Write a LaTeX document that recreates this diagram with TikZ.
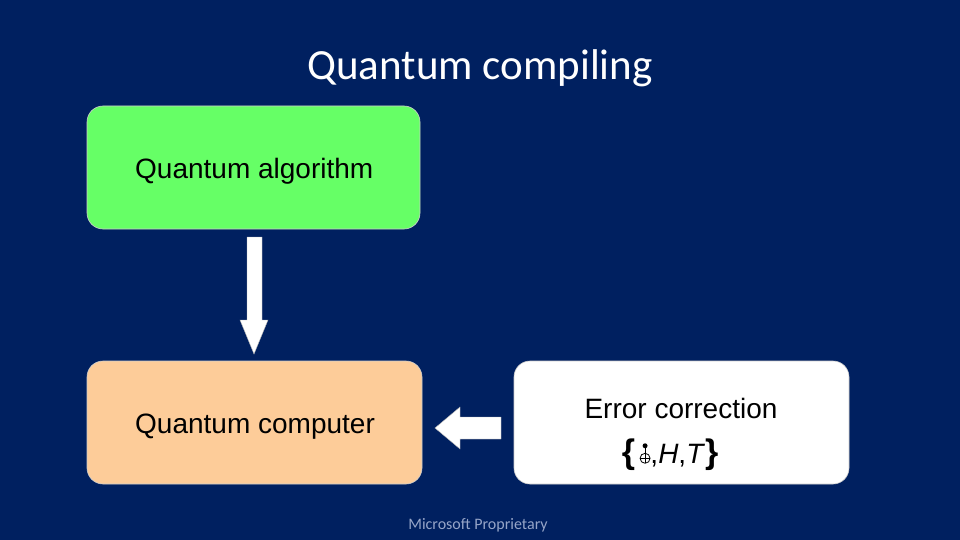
\documentclass[tikz,border=0pt]{standalone}
\usepackage{fontspec}
\setmainfont{Liberation Sans}
\newfontfamily\calib{Carlito}
\definecolor{bgnavy}{RGB}{0,32,96}
\definecolor{boxgreen}{RGB}{102,255,102}
\definecolor{boxorange}{RGB}{253,204,153}
\definecolor{footgray}{RGB}{150,165,200}
\tikzset{
  box/.style={draw=gray!40, line width=0.6pt, rounded corners=16pt},
  fatarrow/.style={fill=white, draw=gray!60, line width=0.4pt},
  boxtext/.style={font=\fontsize{28}{32}\selectfont, anchor=west, inner sep=0pt},
}
\newcommand{\bigbrace}[1]{{\fontsize{34}{34}\selectfont\bfseries #1}}
\begin{document}
\begin{tikzpicture}[x=1pt,y=-1pt]
\fill[bgnavy] (0,0) rectangle (960,540);
\useasboundingbox (0,0) rectangle (960,540);
\node[font=\calib\fontsize{43}{48}\selectfont, text=white] (title) at (480,68) {Quantum compiling};
\node[box, fill=boxgreen, minimum width=333pt, minimum height=123pt] (alg) at (253.5,167.5) {};
\node[box, fill=boxorange, minimum width=335pt, minimum height=123pt] (comp) at (254.5,422.5) {};
\node[box, fill=white, minimum width=335pt, minimum height=123pt] (ec) at (681.5,422.5) {};
\node[boxtext] (algt) at (135,171) {Quantum algorithm};
\node[boxtext] (compt) at (135,427) {Quantum computer};
\node[font=\fontsize{28}{32}\selectfont, inner sep=0pt] (ect) at (681,408) {Error correction};
\node[font=\fontsize{28}{32}\selectfont, inner sep=0pt] (gates) at (670,455) {\bigbrace{\{}\,\tikz[baseline=0pt,x=1pt,y=1pt]{\fill (0,18) circle (2.5);\draw[line width=0.8pt] (0,18)--(0,0.5);\draw[line width=0.8pt] (0,5.5) circle (5);\draw[line width=0.8pt] (-5,5.5)--(5,5.5);},\textit{H},\textit{T}\bigbrace{\}}};
% down arrow
\draw[fatarrow] (247,237) -- (262,237) -- (262,320) -- (268,320) -- (254,354) -- (240,320) -- (247,320) -- cycle;
% left arrow
\draw[fatarrow] (501,417) -- (460,417) -- (460,407) -- (435,428) -- (460,449) -- (460,439) -- (501,439) -- cycle;
\node[font=\calib\fontsize{16}{19}\selectfont, text=footgray] (foot) at (478,525) {Microsoft Proprietary};
\end{tikzpicture}
\end{document}
